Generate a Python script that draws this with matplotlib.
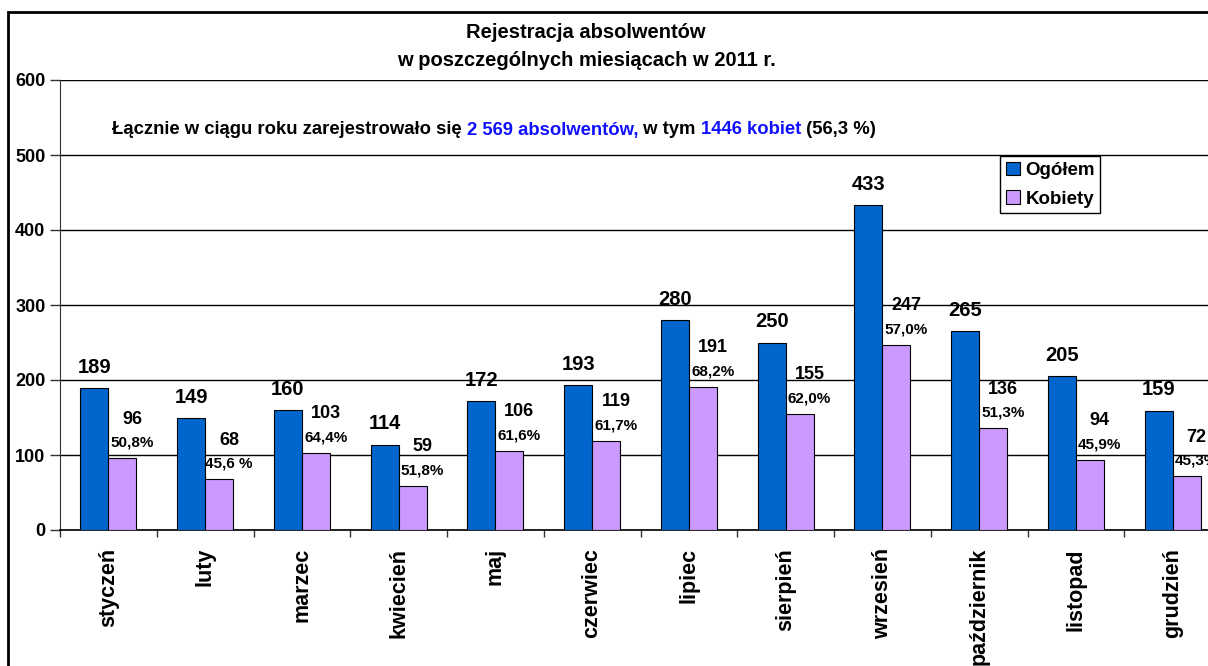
import matplotlib
matplotlib.use('Agg')
import matplotlib.pyplot as plt
from matplotlib.patches import Rectangle
import numpy as np

plt.rcParams['font.family'] = ['Liberation Sans', 'DejaVu Sans']
plt.rcParams['font.weight'] = 'bold'

# Rejestracja absolwentow w 2011 r. - dane miesieczne
months = ['styczeń', 'luty', 'marzec', 'kwiecień', 'maj', 'czerwiec',
          'lipiec', 'sierpień', 'wrzesień', 'październik', 'listopad', 'grudzień']
ogolem = [189, 149, 160, 114, 172, 193, 280, 250, 433, 265, 205, 159]
kobiety = [96, 68, 103, 59, 106, 119, 191, 155, 247, 136, 94, 72]
pct_labels = ['50,8%', '45,6 %', '64,4%', '51,8%', '61,6%', '61,7%',
              '68,2%', '62,0%', '57,0%', '51,3%', '45,9%', '45,3%']
y_ticks = [0, 100, 200, 300, 400, 500, 600]

W, H = 1208, 666
fig = plt.figure(figsize=(W / 100, H / 100), dpi=100)
fig.set_facecolor('white')

ax = fig.add_axes([60 / W, 136 / H, 1161 / W, 450 / H])
x = np.arange(len(months))
bw = 0.29
blue = '#0066CC'
violet = '#CC99FF'

ax.bar(x - bw / 2, ogolem, bw, color=blue, edgecolor='black', linewidth=0.8, label='Ogółem', zorder=3)
ax.bar(x + bw / 2, kobiety, bw, color=violet, edgecolor='black', linewidth=0.8, label='Kobiety', zorder=3)

ax.set_xlim(-0.5, len(months) - 0.5)
ax.set_ylim(0, 600)
ax.set_yticks(y_ticks)
ax.set_yticklabels([str(v) for v in y_ticks], fontsize=13, fontweight='bold')
ax.yaxis.grid(True, color='black', linewidth=1)
ax.set_axisbelow(True)

# ticks between categories, labels at the centres
ax.set_xticks(np.arange(-0.5, len(months), 1.0))
ax.set_xticklabels([])
ax.set_xticks(x, minor=True)
ax.set_xticklabels(months, minor=True, rotation=90, fontsize=15.5, fontweight='bold', va='top')
ax.tick_params(axis='x', which='major', direction='out', length=5, width=1, color='#333333')
ax.tick_params(axis='x', which='minor', length=0, pad=13)
ax.tick_params(axis='y', direction='out', length=7, width=1, color='#333333', pad=3.5)

for side in ['top', 'right']:
    ax.spines[side].set_visible(False)
ax.spines['left'].set_color('#333333')
ax.spines['bottom'].set_color('black')
ax.spines['bottom'].set_linewidth(1.2)

for i in range(len(months)):
    ax.annotate(str(ogolem[i]), (x[i] - bw / 2, ogolem[i]), xytext=(0, 15), textcoords='offset points',
                ha='center', va='center', fontsize=14.5, fontweight='bold')
    ax.annotate(str(kobiety[i]), (x[i] + bw / 2, kobiety[i]), xytext=(7, 28), textcoords='offset points',
                ha='center', va='center', fontsize=13, fontweight='bold')
    ax.annotate(pct_labels[i], (x[i] + bw / 2, kobiety[i]), xytext=(7, 11), textcoords='offset points',
                ha='center', va='center', fontsize=11, fontweight='bold')

leg = ax.legend(loc='upper left', bbox_to_anchor=(1000 / W, 1 - 156 / H), bbox_transform=fig.transFigure,
                prop={'weight': 'bold', 'size': 13.5}, fancybox=False, edgecolor='black',
                handlelength=0.75, handleheight=0.75, handletextpad=0.3, borderpad=0.3,
                labelspacing=0.6, borderaxespad=0, framealpha=1)
leg.get_frame().set_linewidth(1.0)

# title, two lines
fig.text(586 / W, 1 - 33 / H, 'Rejestracja absolwentów',
         ha='center', va='center', fontsize=14.5, fontweight='bold')
fig.text(586 / W, 1 - 60 / H, 'w poszczególnych miesiącach w 2011 r.',
         ha='center', va='center', fontsize=14.5, fontweight='bold')

# summary line with blue highlights
parts = [('Łącznie w ciągu roku zarejestrowało się ', 'black'),
         ('2 569 absolwentów,', '#1010FF'),
         (' w tym ', 'black'),
         ('1446 kobiet', '#1010FF'),
         (' (56,3 %)', 'black')]
texts = []
for s, c in parts:
    texts.append(fig.text(112 / W, 1 - 130 / H, s, color=c, fontsize=13.3, fontweight='bold',
                          ha='left', va='center'))
fig.canvas.draw()
r = fig.canvas.get_renderer()
x0 = texts[0].get_window_extent(r).x1
for tt in texts[1:]:
    tt.set_position((x0 / W, 1 - 130 / H))
    x0 = tt.get_window_extent(r).x1

# outer frame of the chart area
fig.patches.append(Rectangle((8 / W, -0.1), 1.2, 1 - 12 / H + 0.1, transform=fig.transFigure,
                             fill=False, edgecolor='black', linewidth=2))

fig.savefig('out.png', dpi=100)
